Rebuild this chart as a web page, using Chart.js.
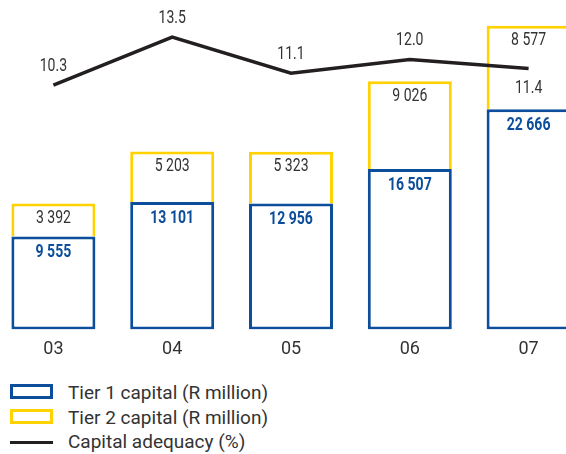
<!DOCTYPE html>
<html>
<head>
<meta charset="utf-8">
<script src="https://cdn.jsdelivr.net/npm/chart.js@4/dist/chart.umd.min.js"></script>
<style>
  html, body { margin: 0; padding: 0; background: #fff; }
  body { width: 566px; height: 454px; overflow: hidden; position: relative; font-family: Roboto, sans-serif; }
  #chart { position: absolute; left: -6px; top: 0; }
  #legend { position: absolute; left: 10px; top: 381px; }
  .legend-item { position: relative; height: 24.5px; line-height: 24.5px; padding-left: 58px; font-size: 19px; color: #333; white-space: nowrap; }
  .legend-box { position: absolute; left: 0; top: 3px; width: 43px; height: 15px; box-sizing: border-box; border: 3px solid; background: #fff; }
  .legend-line { position: absolute; left: 0; top: 11px; width: 43px; height: 3px; }
</style>
</head>
<body>
<canvas id="chart" width="594" height="369"></canvas>
<div id="legend"></div>
<script>
(function() {
  'use strict';
  // 年度（横軸）
  const years = ['03', '04', '05', '06', '07'];
  // Tier 1 / Tier 2 資本（R million）
  const tier1Values = [9555, 13101, 12956, 16507, 22666];
  const tier2Values = [3392, 5203, 5323, 9026, 8577];
  // 自己資本比率（%）
  const adequacyValues = [10.3, 13.5, 11.1, 12.0, 11.4];
  // 凡例の文言
  const seriesLabels = ['Tier 1 capital (R million)', 'Tier 2 capital (R million)', 'Capital adequacy (%)'];

  const blue = '#0c4e9b';
  const yellow = '#ffd200';
  const black = '#231f20';
  const textGray = '#333333';

  // 3 桁区切りはスペース
  function formatThousands(value) {
    return String(value).replace(/\B(?=(\d{3})+(?!\d))/g, ' ');
  }

  // 細めの文字で描く
  function drawNarrowText(ctx, text, x, y, font, color) {
    ctx.save();
    ctx.font = font;
    ctx.fillStyle = color;
    ctx.textAlign = 'center';
    ctx.textBaseline = 'middle';
    ctx.translate(x, y);
    ctx.scale(0.78, 1);
    ctx.fillText(text, 0, 0);
    ctx.restore();
  }

  // 棒と折れ線に数値を書くプラグイン
  const valueLabelPlugin = {
    id: 'valueLabels',
    afterDatasetsDraw(chart) {
      const ctx = chart.ctx;
      const tier1Meta = chart.getDatasetMeta(0);
      const tier2Meta = chart.getDatasetMeta(1);
      const lineMeta = chart.getDatasetMeta(2);
      tier1Meta.data.forEach(function(bar, i) {
        drawNarrowText(ctx, formatThousands(tier1Values[i]), bar.x, bar.y + 16,
          'bold 18px Roboto', blue);
      });
      tier2Meta.data.forEach(function(bar, i) {
        drawNarrowText(ctx, formatThousands(tier2Values[i]), bar.x, bar.y + 15,
          '18px Roboto', textGray);
      });
      lineMeta.data.forEach(function(point, i) {
        // 最後の点だけ線の下に書く
        const offset = i === lineMeta.data.length - 1 ? 20 : -19;
        drawNarrowText(ctx, adequacyValues[i].toFixed(1), point.x, point.y + offset,
          '18px Roboto', textGray);
      });
    }
  };

  const chart = new Chart(document.getElementById('chart').getContext('2d'), {
    type: 'bar',
    data: {
      labels: years,
      datasets: [{
        label: seriesLabels[0],
        data: tier1Values,
        backgroundColor: '#ffffff',
        borderColor: blue,
        borderWidth: 3,
        borderSkipped: false,
        barPercentage: 0.707,
        categoryPercentage: 1,
        order: 1,
      }, {
        label: seriesLabels[1],
        data: tier2Values,
        backgroundColor: '#ffffff',
        borderColor: yellow,
        borderWidth: 3,
        borderSkipped: 'bottom',
        barPercentage: 0.707,
        categoryPercentage: 1,
        order: 1,
      }, {
        type: 'line',
        label: seriesLabels[2],
        data: adequacyValues,
        yAxisID: 'y2',
        borderColor: black,
        borderWidth: 3.5,
        pointRadius: 0,
        tension: 0,
        fill: false,
        order: 0,
      }],
    },
    options: {
      responsive: false,
      animation: false,
      layout: { padding: 0 },
      plugins: {
        legend: { display: false },
        tooltip: { enabled: false },
      },
      scales: {
        x: {
          stacked: true,
          grid: { display: false, drawTicks: false },
          border: { display: false },
          ticks: {
            padding: 9,
            color: textGray,
            font: { family: 'Roboto', size: 18 },
          },
        },
        y: {
          stacked: true,
          display: false,
          min: 0,
          max: 33900,
        },
        y2: {
          display: false,
          min: -5.97,
          max: 15.97,
        },
      },
    },
    plugins: [valueLabelPlugin],
  });

  // 凡例（HTML）
  const legendElem = document.getElementById('legend');
  chart.data.datasets.forEach(function(dataset) {
    const item = document.createElement('div');
    item.className = 'legend-item';
    const mark = document.createElement('span');
    if (dataset.type === 'line') {
      mark.className = 'legend-line';
      mark.style.background = dataset.borderColor;
    } else {
      mark.className = 'legend-box';
      mark.style.borderColor = dataset.borderColor;
    }
    item.appendChild(mark);
    item.appendChild(document.createTextNode(dataset.label));
    legendElem.appendChild(item);
  });
})();
</script>
</body>
</html>
